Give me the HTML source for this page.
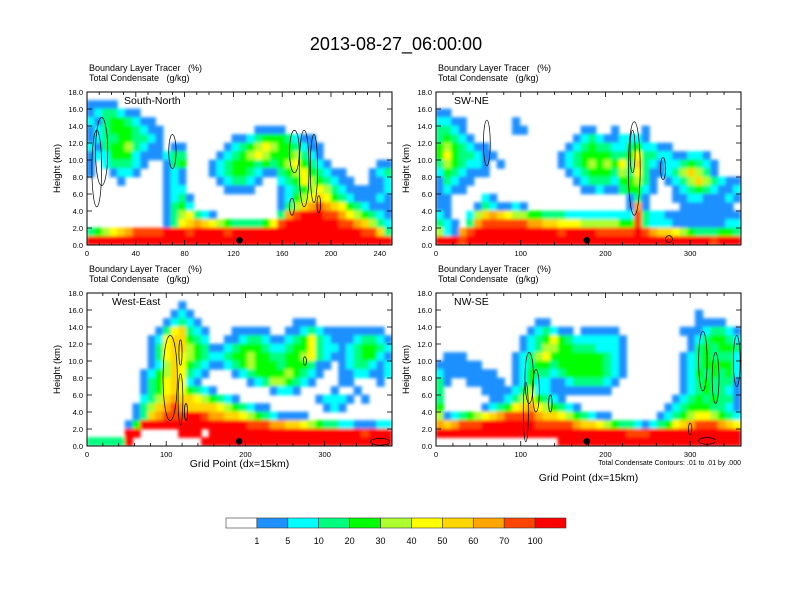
<!DOCTYPE html>
<html><head><meta charset="utf-8"><style>
body{margin:0;background:#fff;}
svg{display:block;font-family:"Liberation Sans",sans-serif;}
text{white-space:pre;}
</style></head><body>
<svg id="fig" width="792" height="612" viewBox="0 0 792 612" xmlns="http://www.w3.org/2000/svg" xml:space="preserve">
<rect width="792" height="612" fill="#fff"/>
<text x="396" y="50" text-anchor="middle" font-size="18">2013-08-27_06:00:00</text>
<defs><filter id="bl" x="-5%" y="-5%" width="110%" height="110%"><feGaussianBlur stdDeviation="1.6"/></filter></defs>
<g id="panels"></g>
<g id="cbar"></g>
</svg>
<script>
const levelColors=["#FFFFFF","#1E90FF","#00FFFF","#00FF7F","#00FF00","#ADFF2F","#FFFF00","#FFD700","#FFA500","#FF4500","#FF0000"];
const levelLabels=["1","5","10","20","30","40","50","60","70","100"];
const yTicks=[0,2,4,6,8,10,12,14,16,18];
// grids: row strings from top (17-18 km) to bottom (0-1 km); chars 0-9,a = level index
const gridSN=[
"0000000000000000000000000000000000000000",
"1111000000000000000000000000000000000000",
"1233211000000000000000000000000000000000",
"2134432110000000000000000000000000000000",
"1234443211000000000000111100000000000000",
"1233443321000000000112344432110000000000",
"2134453211011000001234565443211000000000",
"1224442111233000012345654445321000000000",
"1023332100134000123444343456432100000011",
"1001221000121000123443211345643211000123",
"0000100000121000012332100234654321100112",
"0000000000122000001111000123456532111112",
"0000000000123100000000000124567643211121",
"0000000000134200000000000135789876432111",
"0000000000135632100000000389aaa998654321",
"00000000001367876543333469aaaaaaa9987532",
"3456789999aaa9aaaa9aaaaaaaaaaaaaaaaa9973",
"aaaaaaaaaaaaaaaaaaaaaaaaaaaaaaaaaaaaaaaa"];
const gridSWNE=[
"0000000000000000000000000000000000000000",
"0000000000000000000000000000000000000000",
"1100000000000000000000000000000000000000",
"2211000000100000000000000000000000000000",
"3321000000110000000110010001000000000000",
"3432100000000000001232112221000000000000",
"4543211000000000012343322342211000000000",
"4643321100000000123444433463322112210000",
"3543221010000000123454546373212234321000",
"2432111000000000012344435363112357531000",
"1321100000000000001233324453101235753211",
"1211000000000000000112113442100123432112",
"1100002100000000000000000131000112211121",
"1100013211210000000000000181000011111110",
"2100257876554433322222222293221111111111",
"3210389999998877666555554493222111111122",
"52189aaaaaaaaaaa9aaaa99999a9877654333443",
"aaa9aaaaaaaaaaaaaaaaaaaaaaaaaaaaaaaa9aaa"];
const gridWE=[
"0000000000000000000000000000000000000000",
"0000000000001000000000000000000000000000",
"0000000000012100000000000000000000000000",
"0000000000123210000000000001110000000000",
"0000000001367321000111110011232111111110",
"0000000012677432001123321123463211123321",
"0000000013677543112344432234463221234432",
"0000000013676543223445443344563211234421",
"0000000012576432112345444344431101233212",
"0000000124576321000123444454321001122112",
"0000000134676210000001235543210001100010",
"0000000134676432100000001221000010010000",
"0000000235787765432100000000001222101000",
"0000001357898777765432110000000121000000",
"0000001378999aa9887765432111100000000000",
"0000014aaaaaaaaaaaaaa999887765433221112222",
"00000aa00000aaa0aaaaaaaaaaaaaaaaaaaa9aaa",
"33333a000000000aaaaaaaaaaaaaaaaaaaaaaaaa"];
const gridNWSE=[
"0000000000000000000000000000000000000000",
"0000000000000000000000000000000000000000",
"0000000000000000000000000000000000100000",
"0000000000000110000000000000000000111100",
"0000000000001232110111110000000011123321",
"0000000000012346432222221000000001234432",
"0000000000012355443332221000000001343443",
"0111000000123564444444321000000012343332",
"1111110000123443444444321000000012344442",
"2111111100124332344444321000000012434342",
"3100111110124221123333210000000012343331",
"3000001111235221111111100000000012343321",
"3000000112356432100000000000000123434331",
"4000001234678654321000000000001234443321",
"5123456789999877654321100000012345665432",
"878999aaaaaaa999998776543321234678999876",
"aaaaaaaaaaaaaaaaaaaaaaaaa999aaaaaaaaaaaa",
"0000000000000000aaaaaaaaaaaaaaaaaaaaaaaa"];
// contour ellipses: [x, km, rx(data x), ry(km)]
const contoursSN=[[8,9,4,4.5],[12,11,5,4],[70,11,3,2],[170,11,4,2.5],[178,9,4,4.5],[186,9,3,4],[168,4.5,2,1],[190,4.8,1.5,1]];
const contoursSWNE=[[60,12,4,2.7],[234,9,7,5.5],[232,11,3,2.5],[268,9,3,1.3],[275,0.7,4,0.4]];
const contoursWE=[[105,8,9,5],[118,5.5,3,3],[125,4,2,1],[118,11,2,1.5],[275,10,2,0.5],[370,0.5,12,0.4]];
const contoursNWSE=[[110,8,5,3],[118,6.5,4,2.5],[106,4,3,3.5],[135,5,2,1],[315,10,5,3.5],[330,8,4,3],[355,10,4,3],[300,2,2,0.7],[320,0.6,10,0.4]];
const dots=[125,178,192,178];
const panels=[
 {name:"south-north",title:"South-North",x0:87,y0:92,xmax:250,xt:[0,40,80,120,160,200,240],minor:10,grid:gridSN,ct:contoursSN,xtitle:null},
 {name:"sw-ne",title:"SW-NE",x0:436,y0:92,xmax:360,xt:[0,100,200,300],minor:20,grid:gridSWNE,ct:contoursSWNE,xtitle:null},
 {name:"west-east",title:"West-East",x0:87,y0:293,xmax:385,xt:[0,100,200,300],minor:20,grid:gridWE,ct:contoursWE,xtitle:467},
 {name:"nw-se",title:"NW-SE",x0:436,y0:293,xmax:360,xt:[0,100,200,300],minor:20,grid:gridNWSE,ct:contoursNWSE,xtitle:481}];
const NS="http://www.w3.org/2000/svg";
function mk(tag,attrs,parent){const e=document.createElementNS(NS,tag);for(const k in attrs)e.setAttribute(k,attrs[k]);parent.appendChild(e);return e;}
const W=305,H=153;
const root=document.getElementById('panels');
panels.forEach((p,pi)=>{
 const g=mk('g',{},root);
 
 
 const xs=v=>p.x0+v/p.xmax*W, ys=v=>p.y0+H-v/18*H;
 const t1=mk('text',{x:p.x0+2,y:p.y0-21,'font-size':9},g);t1.textContent="Boundary Layer Tracer   (%)";
 
 
 const t2=mk('text',{x:p.x0+2,y:p.y0-11,'font-size':9},g);t2.textContent="Total Condensate   (g/kg)";
 
 
 const cid='clip'+pi;
 const cp=mk('clipPath',{id:cid},g);mk('rect',{x:p.x0,y:p.y0,width:W,height:H},cp);
 const hg=mk('g',{'clip-path':'url(#'+cid+')'},g);
 const hb=mk('g',{filter:'url(#bl)'},hg);
 
 
 const nc=40,cw=p.xmax/nc;
 p.grid.forEach((row,ri)=>{const km=17-ri;
  for(let c=0;c<nc;c++){const ch=row[c]||'0';const lv=parseInt(ch,16);if(!lv)continue;
   const x1=xs(c*cw),x2=xs((c+1)*cw),y1=ys(km+1),y2=ys(km);
   const r=mk('rect',{x:x1-0.3,y:y1-0.3,width:x2-x1+0.6,height:y2-y1+0.6,fill:levelColors[lv]},hb);
   
   }
 });
 p.ct.forEach(c=>{const e=mk('ellipse',{cx:xs(c[0]),cy:ys(c[1]),rx:c[2]/p.xmax*W,ry:c[3]/18*H,fill:'none',stroke:'#000','stroke-width':0.7},hg);
  
  });
 const d=mk('circle',{cx:xs(dots[pi]),cy:ys(0.55),r:3.3,fill:'#000'},hg);
 
 
 const tt=mk('text',{x:p.x0+(pi==0?37:pi==1?18:pi==2?25:18),y:p.y0+12,'font-size':10.5},g);tt.textContent=p.title;
 
 
 const fr=mk('rect',{x:p.x0,y:p.y0,width:W,height:H,fill:'none',stroke:'#000','stroke-width':1},g);
 
 
 yTicks.forEach(v=>{const y=ys(v);
  mk('line',{x1:p.x0,x2:p.x0+5,y1:y,y2:y,stroke:'#000','stroke-width':0.8},g);
  mk('line',{x1:p.x0+W,x2:p.x0+W-5,y1:y,y2:y,stroke:'#000','stroke-width':0.8},g);
  const l=mk('text',{x:p.x0-4,y:y+3,'font-size':7.5,'text-anchor':'end'},g);l.textContent=v.toFixed(1);
  
  });
 for(let v=0;v<=p.xmax;v+=p.minor){const x=xs(v),mj=p.xt.includes(v),L=mj?5:3;
  mk('line',{x1:x,x2:x,y1:p.y0+H,y2:p.y0+H-L,stroke:'#000','stroke-width':0.8},g);
  mk('line',{x1:x,x2:x,y1:p.y0,y2:p.y0+L,stroke:'#000','stroke-width':0.8},g);}
 p.xt.forEach(v=>{const l=mk('text',{x:xs(v),y:p.y0+H+11,'font-size':7.5,'text-anchor':'middle'},g);l.textContent=v;
  
  });
 const yt=mk('text',{x:0,y:0,'font-size':9.5,'text-anchor':'middle',transform:`translate(${p.x0-27},${p.y0+H/2}) rotate(-90)`},g);yt.textContent="Height (km)";
 
 
 if(p.xtitle){const xt=mk('text',{x:p.x0+W/2,y:p.xtitle,'font-size':10.5,'text-anchor':'middle'},g);xt.textContent="Grid Point (dx=15km)";
  
  }
 if(pi==3){const n=mk('text',{x:p.x0+W,y:p.y0+H+19,'font-size':7,'text-anchor':'end'},g);n.textContent="Total Condensate Contours: .01 to .01 by .000";
  
  }
});
const cb=document.getElementById('cbar');
const cbx0=226,cbw=340/levelColors.length;
levelColors.forEach((c,i)=>{const r=mk('rect',{x:cbx0+i*cbw,y:518,width:cbw,height:10,fill:c,stroke:'#333','stroke-width':0.6},cb);
 
 });
levelLabels.forEach((t,i)=>{const l=mk('text',{x:cbx0+(i+1)*cbw,y:544,'font-size':9,'text-anchor':'middle'},cb);l.textContent=t;
 
 });
</script>
</body></html>
